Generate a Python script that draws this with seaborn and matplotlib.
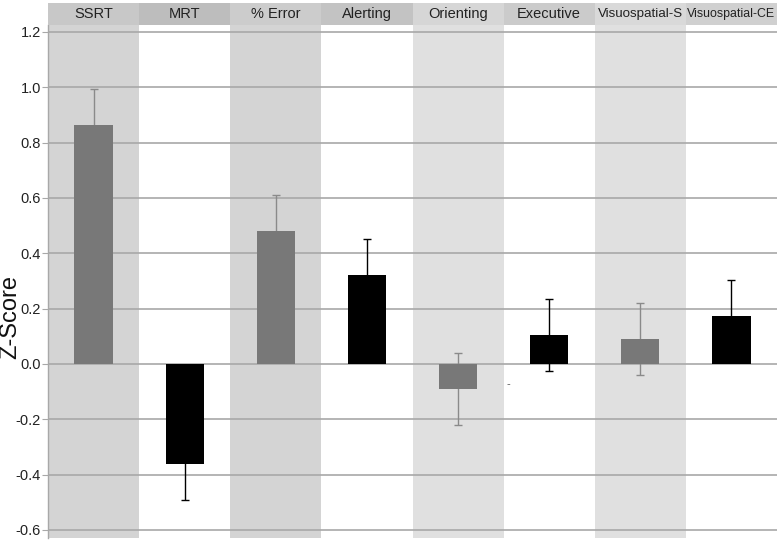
import matplotlib
matplotlib.use("Agg")
import matplotlib.pyplot as plt
import seaborn as sns
import pandas as pd

categories = ["SSRT", "MRT", "% Error", "Alerting", "Orienting", "Executive",
              "Visuospatial-S", "Visuospatial-CE"]
z_scores = [0.865, -0.36, 0.48, 0.32, -0.09, 0.105, 0.09, 0.175]
errors = [0.13, 0.13, 0.13, 0.13, 0.13, 0.13, 0.13, 0.13]
bar_colors = ["#787878", "#000000", "#787878", "#000000", "#787878", "#000000", "#787878", "#000000"]
err_colors = ["#8a8a8a", "#000000", "#8a8a8a", "#000000", "#8a8a8a", "#000000", "#8a8a8a", "#000000"]
band_colors = ["#d4d4d4", "#ffffff", "#d4d4d4", "#ffffff", "#e0e0e0", "#ffffff", "#e0e0e0", "#ffffff"]
header_colors = ["#c8c8c8", "#bdbdbd", "#cccccc", "#c3c3c3", "#d6d6d6", "#cbcbcb", "#d9d9d9", "#d0d0d0"]
header_sizes = [10.5, 10.5, 10.5, 10.5, 10.5, 10.5, 9.6, 8.9]
yticks = [-0.6, -0.4, -0.2, 0.0, 0.2, 0.4, 0.6, 0.8, 1.0, 1.2]

df = pd.DataFrame({"cat": categories, "z": z_scores})

sns.set_style("white")
plt.rcParams["font.family"] = ["Liberation Sans", "DejaVu Sans"]

fig = plt.figure(figsize=(7.77, 5.42), dpi=100)
ax = fig.add_axes([48 / 777, 1 - 538 / 542, 729 / 777, 513 / 542])
hax = fig.add_axes([48 / 777, 1 - 25 / 542, 729 / 777, 22 / 542], sharex=ax)

# background bands and header strip
for i, c in enumerate(band_colors):
    ax.axvspan(i - 0.5, i + 0.5, color=c, zorder=0, lw=0)
    hax.axvspan(i - 0.5, i + 0.5, color=header_colors[i], zorder=0, lw=0)
    hax.text(i, 0.5, categories[i], ha="center", va="center", fontsize=header_sizes[i],
             color="#222222", transform=hax.get_xaxis_transform())

for y in yticks:
    ax.axhline(y, color="#a8a8a8", lw=1.2, zorder=1)

palette = dict(zip(categories, bar_colors))
sns.barplot(data=df, x="cat", y="z", hue="cat", palette=palette, legend=False,
            width=0.42, ax=ax, zorder=3, saturation=1, errorbar=None, linewidth=0)

for i, (v, e) in enumerate(zip(z_scores, errors)):
    ax.errorbar(i, v, yerr=e, fmt="none", ecolor=err_colors[i], elinewidth=1,
                capsize=3, capthick=1, zorder=2)

# small stray dash in the original
ax.text(4.55, -0.072, "-", fontsize=8, color="#555555", ha="center", va="center", zorder=4)

ax.set_xlim(-0.5, 7.5)
ax.set_ylim(-0.629, 1.225)
ax.set_yticks(yticks)
ax.set_yticklabels([f"{t:.1f}" for t in yticks], fontsize=10.5, color="#222222")
ax.tick_params(axis="y", length=4, color="#a8a8a8", pad=1, left=True)
ax.set_xticks([])
ax.set_xlabel("")
ax.set_ylabel("Z-Score", fontsize=17, color="#111111")
ax.yaxis.set_label_coords(-0.037, 0.43)
for s in ["top", "right", "bottom"]:
    ax.spines[s].set_visible(False)
ax.spines["left"].set_color("#a8a8a8")
ax.spines["left"].set_linewidth(1.0)

hax.set_ylim(0, 1)
hax.axis("off")

fig.savefig("out.png", dpi=100)
